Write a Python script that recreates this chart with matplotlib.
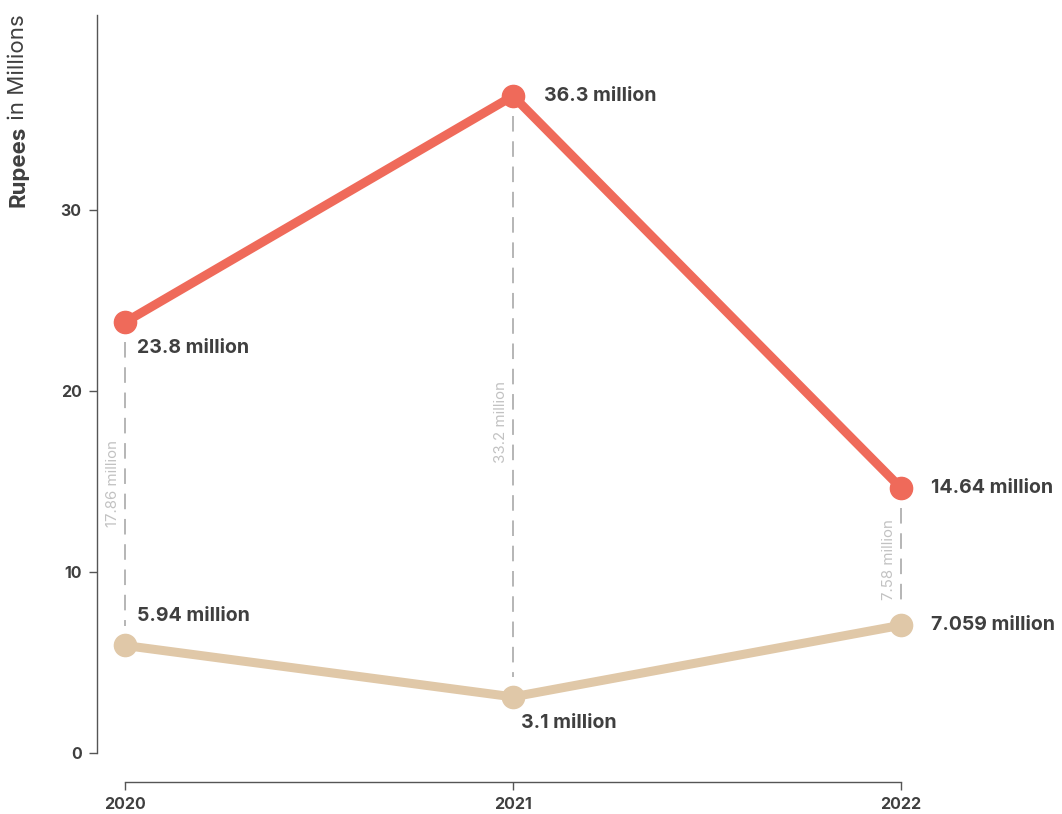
import matplotlib.pyplot as plt

plt.rcParams['font.family'] = ['Inter', 'DejaVu Sans']

years = [2020, 2021, 2022]
upper = [23.8, 36.3, 14.64]
lower = [5.94, 3.1, 7.059]
upper_labels = ["23.8 million", "36.3 million", "14.64 million"]
lower_labels = ["5.94 million", "3.1 million", "7.059 million"]
gap_labels = ["17.86 million", "33.2 million", "7.58 million"]

red = "#EF6A5A"
beige = "#E0C8A8"
dark = "#3f3f3f"
grey = "#b5b5b5"

fig = plt.figure(figsize=(10.62, 8.14), dpi=100)
ax = fig.add_axes([97 / 1062, 61 / 814, 960 / 1062, 738 / 814])

ax.set_xlim(2020 - 28 / 388, 2020 + 960 / 388 - 28 / 388)
ax.set_ylim(0, 738 / 18.1)

# connector lines between the two series
for x, hi, lo, txt, ty in zip(years, upper, lower, gap_labels, [14.9, 18.3, 10.7]):
    ax.plot([x, x], [hi - 1.1, lo + 1.1], color=grey, lw=1.4,
            dashes=(8, 5), zorder=1)
    ax.text(x - 0.032, ty, txt, rotation=90, ha='center', va='center',
            fontsize=10.8, color="#c2c2c2")

ax.plot(years, upper, color=red, lw=6.5, marker='o', ms=16, zorder=3,
        solid_capstyle='round')
ax.plot(years, lower, color=beige, lw=6.5, marker='o', ms=16, zorder=3,
        solid_capstyle='round')

# value labels
upper_off = [(12, -26), (31, 0), (30, 0)]
lower_off = [(12, 29), (8, -26), (30, 0)]
for x, y, t, (dx, dy) in zip(years, upper, upper_labels, upper_off):
    ax.annotate(t, (x, y), xytext=(dx * 0.72, dy * 0.72), textcoords='offset points',
                ha='left', va='center', fontsize=14, fontweight='bold', color=dark)
for x, y, t, (dx, dy) in zip(years, lower, lower_labels, lower_off):
    ax.annotate(t, (x, y), xytext=(dx * 0.72, dy * 0.72), textcoords='offset points',
                ha='left', va='center', fontsize=14, fontweight='bold', color=dark)

# axes styling
for s in ['top', 'right']:
    ax.spines[s].set_visible(False)
ax.spines['left'].set_bounds(0, 738 / 18.1)
ax.spines['bottom'].set_position(('outward', 29 * 0.72))
ax.spines['bottom'].set_bounds(2020, 2022)
for s in ['left', 'bottom']:
    ax.spines[s].set_color("#555555")
    ax.spines[s].set_linewidth(1.0)

ax.set_xticks(years)
ax.set_xticklabels([str(y) for y in years])
ax.set_yticks([0, 10, 20, 30])
ax.tick_params(axis='both', length=6, width=1, color="#555555",
               labelsize=11.5, labelcolor=dark, pad=5)
for lab in ax.get_xticklabels() + ax.get_yticklabels():
    lab.set_fontweight('bold')

# y axis title, bold first word
t1 = fig.text(18 / 1062, 1 - 207 / 814, "Rupees", rotation=90, ha='center',
              va='bottom', fontsize=16, fontweight='bold', color=dark)
fig.canvas.draw()
ax.annotate(" in Millions", xy=(0.5, 1), xycoords=t1, rotation=90,
            ha='center', va='bottom', fontsize=16, color=dark,
            annotation_clip=False)

fig.savefig("out.png", dpi=100)
